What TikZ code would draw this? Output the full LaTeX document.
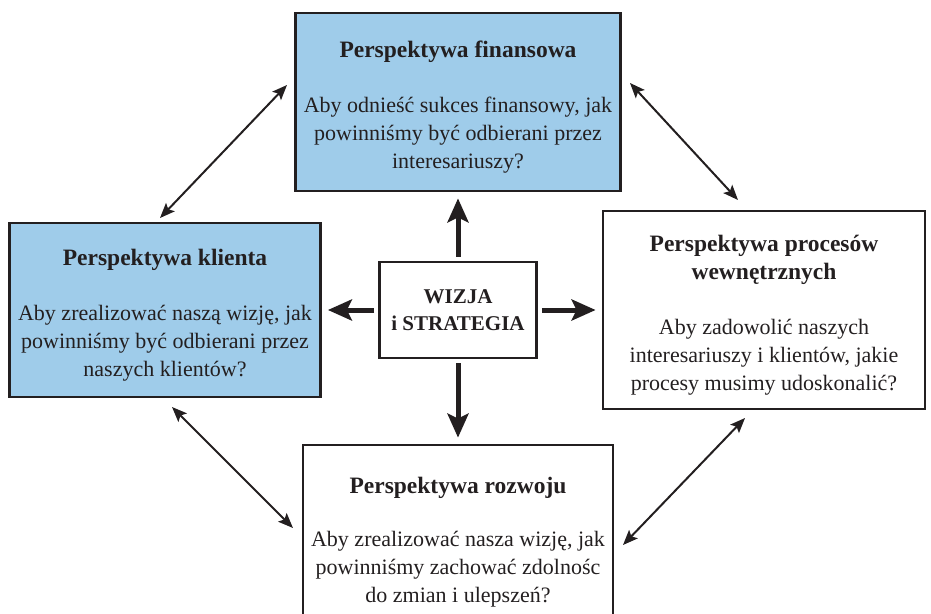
\documentclass[tikz,border=0pt]{standalone}
\usepackage{fontspec}
\setmainfont{Liberation Serif}
\usetikzlibrary{arrows.meta}

\definecolor{boxblue}{HTML}{9FCCEA}
\definecolor{ink}{HTML}{231F20}

\newcommand{\ptitle}[1]{\rule{0pt}{27pt}{\fontsize{23.5}{28}\selectfont\bfseries #1}}

\begin{document}
\begin{tikzpicture}[x=1pt,y=-1pt,
    persp/.style={draw=ink,line width=2.8pt,text=ink,align=center,inner sep=0pt,
      font=\fontsize{22}{28}\selectfont},
    bluebox/.style={persp,fill=boxblue},
    bigarrow/.style={draw=ink,line width=5pt,-{Stealth[length=24pt,width=21pt,inset=5pt]},
      shorten <=4pt,shorten >=6pt},
    linkarrow/.style={draw=ink,line width=2pt,{Stealth[length=15pt,width=12pt,inset=3pt]}-{Stealth[length=15pt,width=12pt,inset=3pt]}}]

    \clip (0,0) rectangle (931,613);
    \useasboundingbox (0,0) rectangle (931,613);

    \node[bluebox,minimum width=325pt,minimum height=178pt] (fin) at (458,102)
        {\ptitle{Perspektywa finansowa}\\[27pt]
         Aby odnieść sukces finansowy, jak\\
         powinniśmy być odbierani przez\\
         interesariuszy?};
    \node[bluebox,minimum width=311pt,minimum height=174pt] (kli) at (165,310)
        {\ptitle{Perspektywa klienta}\\[27pt]
         Aby zrealizować naszą wizję, jak\\
         powinniśmy być odbierani przez\\
         naszych klientów?};
    \node[persp,minimum width=322pt,minimum height=198pt] (proc) at (764,310)
        {\ptitle{Perspektywa procesów}\\
         {\fontsize{23.5}{28}\selectfont\bfseries wewnętrznych}\\[27pt]
         Aby zadowolić naszych\\
         interesariuszy i klientów, jakie\\
         procesy musimy udoskonalić?};
    \node[persp,minimum width=310pt,minimum height=184pt] (roz) at (458,537)
        {\ptitle{Perspektywa rozwoju}\\[25pt]
         Aby zrealizować nasza wizję, jak\\
         powinniśmy zachować zdolnośc\\
         do zmian i ulepszeń?};
    \node[persp,minimum width=157pt,minimum height=96pt,font=\fontsize{21}{27}\selectfont\bfseries]
        (viz) at (458,310) {WIZJA\\ i STRATEGIA};

    \draw[bigarrow] (viz) -- (fin);
    \draw[bigarrow] (viz) -- (kli);
    \draw[bigarrow] (viz) -- (proc);
    \draw[bigarrow] (viz) -- (roz);

    \coordinate (kf1) at (160,218);
    \coordinate (kf2) at (287,85);
    \coordinate (fp1) at (630,83);
    \coordinate (fp2) at (738,200);
    \coordinate (kr1) at (172,407);
    \coordinate (kr2) at (293,528);
    \coordinate (pr1) at (745,418);
    \coordinate (pr2) at (623,545);

    \draw[linkarrow] (kf1) -- (kf2);
    \draw[linkarrow] (fp1) -- (fp2);
    \draw[linkarrow] (kr1) -- (kr2);
    \draw[linkarrow] (pr1) -- (pr2);
\end{tikzpicture}
\end{document}
